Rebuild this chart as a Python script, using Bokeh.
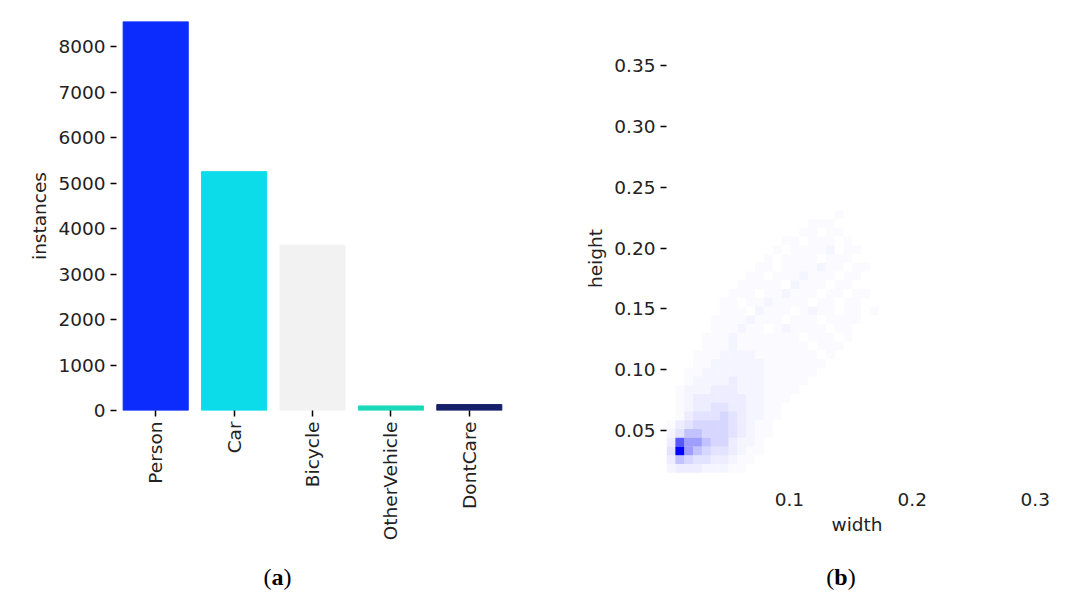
from bokeh.plotting import figure
from bokeh.models import FixedTicker, Div, CustomJSTickFormatter
from bokeh.layouts import row, column
from bokeh.embed import file_html
from bokeh.resources import INLINE

# bar chart data
classes = ['Person', 'Car', 'Bicycle', 'OtherVehicle', 'DontCare']
instances = [8550, 5250, 3630, 100, 130]
bar_colors = ['#0b2cfc', '#0cdcea', '#f2f2f2', '#1ad9b9', '#16206a']

# 2d histogram of box width/height, rows from top (high height) to bottom
bin_size = 0.0072
y_start = 0.0152
hist_rows = [
    "0000000000000000000100000",
    "0000000000000000111000000",
    "0000000000000001101100000",
    "0000000000000110111010000",
    "0000000000001011112011000",
    "0000000000010111101110000",
    "0000000000110111121101100",
    "0000000001101112111011000",
    "0000000011111021110110000",
    "0000000111011211101101100",
    "0000001101121111011011000",
    "0000001110211101211011010",
    "0000011112111011101111000",
    "0000011121101211110110000",
    "0000111211111110111010000",
    "0000111211111111011100000",
    "0001112222111111101000000",
    "0001122222211111110000000",
    "0011222222211111100000000",
    "0012222322211111000000000",
    "0122233322211110000000000",
    "0123333332211100000000000",
    "0123344332211000000000000",
    "0134445432211000000000000",
    "1345555432110000000000000",
    "2466555432110000000000000",
    "3877655322100000000000000",
    "4976544321100000000000000",
    "3654433211000000000000000",
    "2333222110000000000000000",
]
level_alpha = [0, 0.02, 0.04, 0.07, 0.11, 0.16, 0.24, 0.38, 0.65, 1.0]

FONT = "DejaVu Sans"

def style(p):
    p.outline_line_color = None
    p.xgrid.grid_line_color = None
    p.ygrid.grid_line_color = None
    for ax in p.axis:
        ax.axis_line_color = None
        ax.minor_tick_line_color = None
        ax.major_tick_out = 6
        ax.major_tick_in = 0
        ax.major_tick_line_width = 1.5
        ax.major_label_text_font = FONT
        ax.major_label_text_font_size = "18.5px"
        ax.major_label_text_color = "#222222"
        ax.axis_label_text_font = FONT
        ax.axis_label_text_font_size = "18.5px"
        ax.axis_label_text_font_style = "normal"
        ax.axis_label_text_color = "#222222"

# (a) bar chart
p1 = figure(x_range=classes, y_range=(0, max(instances)), width=525, height=555,
            output_backend="svg", toolbar_location=None,
            min_border_left=116, min_border_top=21, min_border_bottom=145, min_border_right=17)
p1.vbar(x=classes, top=instances, width=0.83, color=bar_colors)
p1.yaxis.axis_label = "instances"
p1.yaxis.ticker = FixedTicker(ticks=[0, 1000, 2000, 3000, 4000, 5000, 6000, 7000, 8000])
p1.xaxis.major_label_orientation = 1.5708
style(p1)

# (b) heatmap
xs, ys, alphas = [], [], []
n = len(hist_rows)
for r, line in enumerate(hist_rows):
    k = n - 1 - r
    for c, ch in enumerate(line):
        v = int(ch)
        if v == 0:
            continue
        xs.append((c + 0.5) * bin_size)
        ys.append(y_start + (k + 0.5) * bin_size)
        alphas.append(level_alpha[v])

p2 = figure(x_range=(0, 0.31), y_range=(0.003, 0.38), width=522, height=555,
            output_backend="svg", toolbar_location=None,
            min_border_left=131, min_border_top=29, min_border_bottom=68, min_border_right=10)
p2.rect(x=xs, y=ys, width=bin_size, height=bin_size, fill_color="#0000ff",
        fill_alpha=alphas, line_color=None)
p2.xaxis.ticker = FixedTicker(ticks=[0.1, 0.2, 0.3])
p2.yaxis.ticker = FixedTicker(ticks=[0.05, 0.10, 0.15, 0.20, 0.25, 0.30, 0.35])
p2.yaxis.formatter = CustomJSTickFormatter(code="return tick.toFixed(2)")
p2.xaxis.formatter = CustomJSTickFormatter(code="return tick.toFixed(1)")
p2.xaxis.axis_label = "width"
p2.yaxis.axis_label = "height"
style(p2)
p2.xaxis.major_tick_out = 0

cap_a = Div(text="(<b>a</b>)", width=525, height=30,
            styles={"text-align": "center", "font-family": "Liberation Serif", "font-size": "24px", "padding-left": "20px"})
cap_b = Div(text="(<b>b</b>)", width=522, height=30,
            styles={"text-align": "center", "font-family": "Liberation Serif", "font-size": "24px", "padding-left": "80px"})

p = row(column(p1, cap_a), column(p2, cap_b))
open("out.html", "w").write(file_html(p, INLINE))
